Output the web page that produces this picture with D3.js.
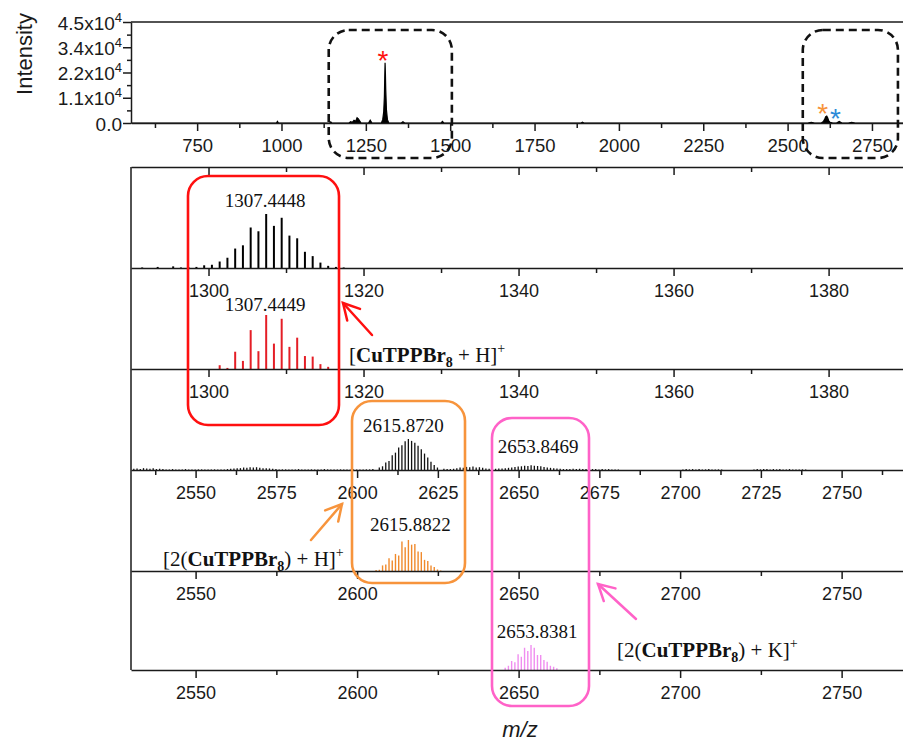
<!DOCTYPE html>
<html>
<head>
<meta charset="utf-8">
<script src="https://cdn.jsdelivr.net/npm/d3@7"></script>
<style>
  html, body { margin: 0; padding: 0; background: #fff; }
  svg { display: block; }
  text { font-family: "Liberation Sans", Arial, sans-serif; }
  .serif { font-family: "Liberation Serif", "Times New Roman", serif; }
</style>
</head>
<body>
<svg id="chart" width="903" height="741"></svg>
<script>
// ---------- overview spectrum (full m/z range) ----------
const overviewMz  = [554, 985, 988, 991, 1143, 1146, 1149, 1200, 1205, 1210, 1215, 1220, 1224, 1228, 1232, 1236,
                     1258, 1263, 1268, 1296, 1300, 1303, 1305, 1306, 1307, 1308, 1309, 1311, 1314, 1318,
                     1355, 1360, 1365, 1473, 1477, 1481, 1888, 1892, 1896, 2560, 2570, 2580,
                     2600, 2606, 2610, 2613, 2616, 2619, 2622, 2626, 2634, 2645, 2653, 2661, 2680, 2690, 2700, 2842];
const overviewInt = [0, 0, 700, 0, 0, 500, 0, 0, 600, 300, 1200, 800, 2300, 1800, 900, 0,
                     0, 1300, 0, 0, 1500, 5000, 12000, 20000, 26800, 22000, 15000, 6000, 1500, 0,
                     0, 600, 0, 0, 700, 0, 0, 400, 0, 0, 300, 0,
                     0, 700, 1800, 2800, 3100, 2200, 900, 300, 0, 0, 700, 0, 0, 300, 0, 0];
const overviewTicks = [750, 1000, 1250, 1500, 1750, 2000, 2250, 2500, 2750];
const overviewMinor = [625, 875, 1125, 1375, 1625, 1875, 2125, 2375, 2625];
const intensityTicks = [0, 11250, 22500, 33750, 45000];
const intensityLabels = [["0.0", ""], ["1.1x10", "4"], ["2.2x10", "4"], ["3.4x10", "4"], ["4.5x10", "4"]];
const intensityMinor = [5625, 16875, 28125, 39375];

// ---------- [CuTPPBr8 + H]+ : measured and simulated isotope patterns (relative %) ----------
const monomerMz  = [1291.44, 1293.44, 1295.44, 1296.44, 1297.44, 1298.44, 1299.44, 1300.44, 1301.44, 1302.44,
                    1303.44, 1304.44, 1305.44, 1306.44, 1307.44, 1308.44, 1309.44, 1310.44, 1311.44, 1312.44,
                    1313.44, 1314.44, 1315.44, 1316.44, 1317.44];
const monomerExp = [1, 2, 3, 1, 1, 2, 5, 6, 12, 19, 36, 42, 75, 68, 100, 78, 93, 60, 55, 30, 22, 10, 4, 2, 1];
const monomerSim = [0, 0, 0, 0, 0, 0, 0, 0, 7, 2, 32, 15, 72, 33, 100, 47, 93, 41, 58, 24, 23, 9, 4, 0, 0];
const monomerTicks = [1300, 1320, 1340, 1360, 1380];
const monomerMinor = [1310, 1330, 1350, 1370];

// ---------- dimer region, measured (first m/z of each run, then one value per 1 Da) ----------
const dimerExpRuns = [
  [2530.87, [4, 5, 3, 6, 5, 4, 6, 3, 4, 3]],
  [2540.87, [2, 2, 3, 2, 2, 2, 3, 2, 2, 2, 2, 2, 2, 2, 2, 2, 2, 2, 2]],
  [2559.87, [3, 4, 5, 6, 6, 8, 7, 9, 8, 9, 7, 6, 6, 5, 4, 3, 2]],
  [2576.87, [2, 2, 2, 2, 2, 3, 2, 2, 2, 2, 2, 2, 2, 3, 2, 2, 2, 2, 2, 2, 2, 2, 2, 2, 2, 2, 2, 2, 3]],
  [2606.87, [8, 12, 24, 29, 48, 56, 73, 80, 93, 100, 94, 88, 78, 67, 53, 40, 27, 16, 8]],
  [2626.87, [4, 3, 3, 4, 6, 8, 7, 10, 9, 11, 8, 9, 7, 5, 4, 3]],
  [2642.87, [4, 5, 5, 6, 7, 8, 10, 11, 12, 14, 13, 15, 14, 13, 12, 10, 8, 7, 6, 5, 4, 3, 3]],
  [2665.87, [3, 4, 3, 4, 3, 3, 4, 3, 3, 2, 3, 2, 3, 2, 2, 2]],
  [2700.87, [2, 3, 2, 3, 2, 3, 2, 2, 3, 2, 2, 2, 2]],
  [2722.87, [2, 3, 2, 3, 3, 2, 3, 2, 3, 2, 2, 3, 2, 2, 2, 2, 2]]
];
// simulated [2(CuTPPBr8) + H]+ and [2(CuTPPBr8) + K]+
const dimerHFirst = 2605.88;
const dimerHSim = [3, 4, 18, 21, 41, 34, 55, 50, 95, 77, 100, 85, 87, 63, 61, 36, 32, 18, 13, 5, 2];
const dimerKFirst = 2645.84;
const dimerKSim = [9, 17, 36, 31, 63, 53, 89, 76, 100, 89, 60, 60, 40, 33, 17, 13, 7];
const dimerTicks = [2550, 2575, 2600, 2625, 2650, 2675, 2700, 2725, 2750];
const dimerMinor = [2537.5, 2562.5, 2587.5, 2612.5, 2637.5, 2662.5, 2687.5, 2712.5, 2737.5, 2762.5];
const simTicks = [2550, 2600, 2650, 2700, 2750];
const simMinor = [2575, 2625, 2675, 2725];

// ---------- drawing ----------
const svg = d3.select("#chart");
const INK = "#1a1a1a";
const RED = "#ff1010", ORANGE = "#f7943c", PINK = "#ff62c8", BLUE = "#2d8ad8";

function styleAxis(sel, fontSize) {
  sel.attr("font-family", null).attr("font-size", null);
  sel.selectAll("line, path").attr("stroke", INK).attr("stroke-width", 1.5);
  sel.selectAll("text").attr("fill", INK).style("font-size", fontSize + "px");
}

function bottomAxis(scale, y, major, minor, withLabels, fontSize) {
  const g = svg.append("g").attr("transform", `translate(0,${y})`);
  g.call(d3.axisBottom(scale).tickValues(major).tickSize(8).tickSizeOuter(0)
          .tickFormat(withLabels ? d3.format("d") : ""));
  g.selectAll("text").attr("y", 29).attr("dy", null);
  styleAxis(g, fontSize);
  const m = svg.append("g").attr("transform", `translate(0,${y})`);
  m.call(d3.axisBottom(scale).tickValues(minor).tickSize(5).tickFormat(""));
  m.select(".domain").remove();
  styleAxis(m, fontSize);
}

// ----- overview panel -----
const topX = d3.scaleLinear().domain([554, 2842]).range([131, 903]);
const topY = d3.scaleLinear().domain([0, 45000]).range([123, 22]);

const overview = overviewMz.map((m, i) => ({ mz: m, v: overviewInt[i] }));
svg.append("path")
  .datum(overview)
  .attr("d", d3.area().x(d => topX(d.mz)).y0(topY(0)).y1(d => topY(d.v)))
  .attr("fill", "#000").attr("stroke", "#000").attr("stroke-width", 1.2);

svg.append("line").attr("x1", 131).attr("x2", 903).attr("y1", topY.range()[1]).attr("y2", topY.range()[1])
  .attr("stroke", INK).attr("stroke-width", 1.5);
bottomAxis(topX, 123, overviewTicks, overviewMinor, true, 18.5);

const yAx = svg.append("g").attr("transform", "translate(131,0)");
yAx.call(d3.axisLeft(topY).tickValues(intensityTicks).tickSize(8).tickSizeOuter(0).tickFormat(""));
styleAxis(yAx, 19);
yAx.selectAll(".tick").each(function (d, i) {
  const t = d3.select(this).append("text")
    .attr("x", -9).attr("y", 7).attr("text-anchor", "end").attr("fill", INK).style("font-size", "19px");
  t.append("tspan").text(intensityLabels[i][0]);
  if (intensityLabels[i][1]) {
    t.append("tspan").attr("dy", -8).style("font-size", "13px").text(intensityLabels[i][1]);
  }
});
const yMin = svg.append("g").attr("transform", "translate(131,0)");
yMin.call(d3.axisLeft(topY).tickValues(intensityMinor).tickSize(4).tickFormat(""));
yMin.select(".domain").remove();
styleAxis(yMin, 19);

svg.append("text").attr("transform", "translate(32,54) rotate(-90)")
  .attr("text-anchor", "middle").style("font-size", "22px").attr("fill", INK).text("Intensity");

// asterisks over the main peaks
[[1307, -2, 70, RED], [2615.9, -4, 123, ORANGE], [2653.8, -4, 128, BLUE]].forEach(([mz, dx, y, c]) => {
  svg.append("text").attr("x", topX(mz) + dx).attr("y", y).attr("text-anchor", "middle")
    .style("font-size", "28px").attr("fill", c).text("*");
});

// dashed zoom windows
[[1140, 1505], [2545, 2827]].forEach(([a, b]) => {
  svg.append("rect").attr("x", topX(a)).attr("y", 30).attr("width", topX(b) - topX(a)).attr("height", 128)
    .attr("rx", 20).attr("ry", 20).attr("fill", "none").attr("stroke", "#111")
    .attr("stroke-width", 2.6).attr("stroke-dasharray", "8,5");
});

// ----- stacked zoom panels -----
const monoX = d3.scaleLinear().domain([1290, 1389.6]).range([131, 903]);
const dimX = d3.scaleLinear().domain([2530, 2769]).range([131, 903]);

const panels = [
  { x: monoX, base: 268, top: 167, yMax: 187 },
  { x: monoX, base: 369, top: 268, yMax: 187 },
  { x: dimX,  base: 470, top: 369, yMax: 326 },
  { x: dimX,  base: 571, top: 470, yMax: 326 },
  { x: dimX,  base: 670, top: 571, yMax: 396 }
];
panels.forEach(p => { p.y = d3.scaleLinear().domain([0, p.yMax]).range([p.base, p.top]); });

function sticks(p, data, color, width) {
  svg.append("g").selectAll("line")
    .data(data.filter(d => d.v > 0))
    .join("line")
    .attr("x1", d => p.x(d.mz)).attr("x2", d => p.x(d.mz))
    .attr("y1", p.y(0)).attr("y2", d => p.y(d.v))
    .attr("stroke", color).attr("stroke-width", width);
}

sticks(panels[0], monomerMz.map((m, i) => ({ mz: m, v: monomerExp[i] })), "#000", 2);
sticks(panels[1], monomerMz.map((m, i) => ({ mz: m, v: monomerSim[i] })), "#e41e26", 2);
sticks(panels[2], dimerExpRuns.flatMap(([f, vals]) => vals.map((v, i) => ({ mz: f + i, v }))), "#111", 1.3);
sticks(panels[3], dimerHSim.map((v, i) => ({ mz: dimerHFirst + i, v })), "#f08a2c", 1.4);
sticks(panels[4], dimerKSim.map((v, i) => ({ mz: dimerKFirst + i, v })), "#f08ef0", 1.4);

// frame and axes
svg.append("line").attr("x1", 131).attr("x2", 131).attr("y1", 167).attr("y2", 670)
  .attr("stroke", INK).attr("stroke-width", 1.5);
bottomAxis(monoX, 167, monomerTicks, monomerMinor, false, 18);
bottomAxis(monoX, 268, monomerTicks, monomerMinor, true, 18);
bottomAxis(monoX, 369, monomerTicks, monomerMinor, true, 18);
bottomAxis(dimX, 470, dimerTicks, dimerMinor, true, 18);
bottomAxis(dimX, 571, simTicks, simMinor, true, 18);
bottomAxis(dimX, 670, simTicks, simMinor, true, 18);

svg.append("text").attr("x", 520).attr("y", 737).attr("text-anchor", "middle")
  .style("font-size", "22px").style("font-style", "italic").attr("fill", INK).text("m/z");

// peak labels
function peakLabel(p, mz, dx, y, txt) {
  svg.append("text").attr("class", "serif").attr("x", p.x(mz) + dx).attr("y", y)
    .attr("text-anchor", "middle").style("font-size", "19px").attr("fill", "#111").text(txt);
}
peakLabel(panels[0], 1307.4448, -1, 207, "1307.4448");
peakLabel(panels[1], 1307.4449, -1, 311, "1307.4449");
peakLabel(panels[2], 2615.8720, -5, 432, "2615.8720");
peakLabel(panels[3], 2615.8822, 2, 531, "2615.8822");
peakLabel(panels[2], 2653.8469, 7, 453, "2653.8469");
peakLabel(panels[4], 2653.8381, 6, 638, "2653.8381");

// ion formula labels
function formula(x, y, parts) {
  const t = svg.append("text").attr("class", "serif").attr("x", x).attr("y", y)
    .attr("xml:space", "preserve").style("white-space", "pre")
    .style("font-size", "21px").attr("fill", "#111");
  let shift = 0;
  parts.forEach(([s, kind]) => {
    const target = kind === "sub" || kind === "bsub" ? 5 : kind === "sup" ? -9 : 0;
    const ts = t.append("tspan").attr("dy", target - shift).text(s);
    shift = target;
    if (kind === "b" || kind === "bsub") ts.style("font-weight", "bold");
    if (kind === "bsub" || kind === "sup") ts.style("font-size", "14px");
  });
}
formula(349, 362, [["[", ""], ["CuTPPBr", "b"], ["8", "bsub"], [" + H]", ""], ["+", "sup"]]);
formula(163, 566, [["[2(", ""], ["CuTPPBr", "b"], ["8", "bsub"], [") + H]", ""], ["+", "sup"]]);
formula(617, 657, [["[2(", ""], ["CuTPPBr", "b"], ["8", "bsub"], [") + K]", ""], ["+", "sup"]]);

// highlight boxes
[[188, 176, 339, 425, RED], [352, 401, 465, 583, ORANGE], [492, 418, 589, 706, PINK]].forEach(([x1, y1, x2, y2, c]) => {
  svg.append("rect").attr("x", x1).attr("y", y1).attr("width", x2 - x1).attr("height", y2 - y1)
    .attr("rx", 20).attr("ry", 20).attr("fill", "none").attr("stroke", c).attr("stroke-width", 2.6);
});

// arrows pointing at the boxes
function arrow(x1, y1, x2, y2, c) {
  const a = Math.atan2(y1 - y2, x1 - x2), L = 18, s = 0.5;
  const g = svg.append("g").attr("stroke", c).attr("stroke-width", 2.5).attr("fill", "none")
    .attr("stroke-linecap", "round");
  g.append("line").attr("x1", x1).attr("y1", y1).attr("x2", x2).attr("y2", y2);
  g.append("polyline").attr("points", [
    [x2 + L * Math.cos(a + s), y2 + L * Math.sin(a + s)], [x2, y2],
    [x2 + L * Math.cos(a - s), y2 + L * Math.sin(a - s)]].map(p => p.join(",")).join(" "));
}
arrow(372, 335, 343, 303, RED);
arrow(311, 540, 342, 504, ORANGE);
arrow(636, 619, 598, 584, PINK);
</script>
</body>
</html>
